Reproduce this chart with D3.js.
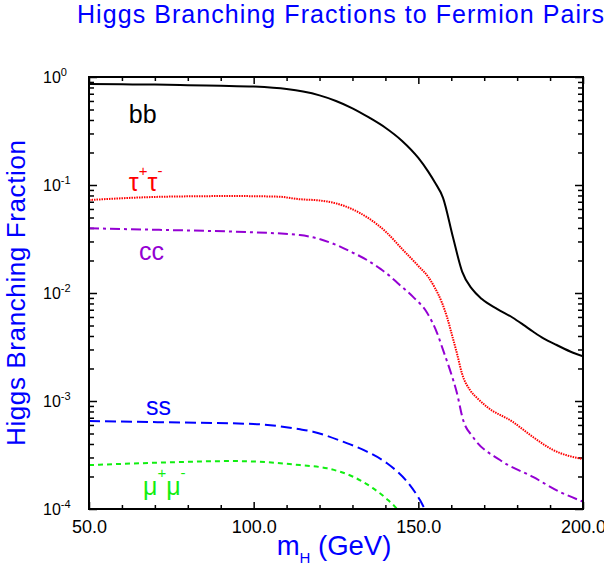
<!DOCTYPE html>
<meta charset="utf-8">
<script src="https://d3js.org/d3.v7.min.js"></script>
<style>
  body { margin: 0; background: #fff; }
  text { font-family: "Liberation Sans", Arial, sans-serif; }
</style>
<div id="chart"></div>
<script>

// ---- data (Higgs mass in GeV, branching fraction) ----
var massBB = [50, 60, 70, 80, 90, 100, 110, 115, 120, 125, 130, 135, 140, 145, 150, 153, 155, 157.5, 160.5, 163.3, 166.3, 169.3, 174, 178.7, 181.8, 184.8, 188, 192, 197, 200];
var brBB   = [0.86, 0.855, 0.85, 0.84, 0.83, 0.815, 0.773, 0.733, 0.676, 0.60, 0.513, 0.422, 0.339, 0.257, 0.178, 0.133, 0.106, 0.076, 0.033, 0.0158, 0.0109, 0.0088, 0.0071, 0.0059, 0.0051, 0.0044, 0.0038, 0.0033, 0.0028, 0.0026];

var massTau = [50, 73.7, 93.7, 107.4, 114, 120, 125, 130, 135, 140, 145, 150, 153, 155, 157.2, 158.7, 160.2, 161.7, 163.3, 165.7, 167.8, 170.9, 178.7, 184.8, 190.9, 200];
var brTau   = [0.0726, 0.078, 0.079, 0.078, 0.0738, 0.0719, 0.0676, 0.0596, 0.049, 0.0372, 0.0257, 0.0178, 0.0141, 0.0112, 0.0081, 0.0060, 0.0041, 0.00278, 0.00178, 0.00126, 0.00107, 0.00088, 0.00064, 0.000464, 0.000352, 0.00029];

var massCC = [50, 73.7, 93.7, 114, 120, 125, 130, 134.4, 138.4, 141.4, 143.6, 148.4, 152.7, 155.7, 157.5, 159.6, 161.7, 163.6, 166.6, 174.8, 184.8, 193, 200];
var brCC   = [0.0397, 0.0383, 0.037, 0.0344, 0.0316, 0.0279, 0.0237, 0.0202, 0.0168, 0.0143, 0.01245, 0.0092, 0.00653, 0.00426, 0.00297, 0.00194, 0.00119, 0.000667, 0.000464, 0.000284, 0.000198, 0.000144, 0.000117];

var massSS = [50, 73.7, 100, 114.1, 118, 127.1, 134.4, 140.5, 146.6, 150.5, 152, 153];
var brSS   = [0.000653, 0.000635, 0.000612, 0.000547, 0.00052, 0.00042, 0.00034, 0.000265, 0.000179, 0.000121, 0.0001, 0.000092];

var massMu = [50, 73.7, 93.7, 114.1, 122.3, 130.2, 136.2, 140.8, 143.5, 144.5];
var brMu   = [0.000255, 0.00027, 0.000278, 0.000255, 0.000238, 0.000199, 0.000156, 0.000121, 0.0001, 0.00009];

// axis ticks
var xMajor = [50, 100, 150, 200];
var xMinor = [60, 70, 80, 90, 110, 120, 130, 140, 160, 170, 180, 190];
var yDecades = [1e-4, 1e-3, 1e-2, 1e-1, 1];
var yExponents = ["-4", "-3", "-2", "-1", "0"];

var svg = d3.select("#chart").append("svg")
    .attr("width", 604)
    .attr("height", 568);

var x = d3.scaleLinear().domain([50, 200]).range([89, 583]);
var y = d3.scaleLog().domain([1e-4, 1]).range([509, 77]);

// minor log ticks 2..9 in every decade
var yMinor = [];
yDecades.slice(0, 4).forEach(function(d) {
  for (var k = 2; k <= 9; k++) yMinor.push(d * k);
});

// ---- axes: all ticks point inward ----
function tickAxis(axis, transform, len) {
  var g = svg.append("g").attr("transform", transform).call(axis.tickSize(-len).tickFormat(""));
  g.select(".domain").remove();
  g.selectAll("line").attr("stroke", "#000").attr("stroke-width", 1.5);
  return g;
}

// bottom with labels
var gx = svg.append("g")
    .attr("transform", "translate(0,509)")
    .call(d3.axisBottom(x).tickValues(xMajor).tickSize(-7).tickPadding(11).tickFormat(d3.format(".1f")));
gx.select(".domain").remove();
gx.selectAll("line").attr("stroke", "#000").attr("stroke-width", 1.5);
gx.selectAll("text").attr("font-size", 18).attr("fill", "#000")
    .style("font-family", "'Liberation Sans', Arial, sans-serif");

tickAxis(d3.axisBottom(x).tickValues(xMinor), "translate(0,509)", 4);
tickAxis(d3.axisTop(x).tickValues(xMajor), "translate(0,77)", 7);
tickAxis(d3.axisTop(x).tickValues(xMinor), "translate(0,77)", 4);

tickAxis(d3.axisLeft(y).tickValues(yDecades), "translate(89,0)", 8);
tickAxis(d3.axisLeft(y).tickValues(yMinor), "translate(89,0)", 5);
tickAxis(d3.axisRight(y).tickValues(yDecades), "translate(583,0)", 8);
tickAxis(d3.axisRight(y).tickValues(yMinor), "translate(583,0)", 5);

// y tick labels 10^n
var ylab = svg.append("g").selectAll("text")
  .data(yDecades)
  .enter().append("text")
    .attr("x", 43)
    .attr("y", function(d) { return y(d) + 6; })
    .attr("font-size", 16)
    .attr("fill", "#000");
ylab.append("tspan").text("10");
ylab.append("tspan")
    .attr("dy", -7)
    .attr("font-size", 11)
    .text(function(d, i) { return yExponents[i]; });

// ---- curves ----
svg.append("clipPath").attr("id", "plotclip")
  .append("rect").attr("x", 89).attr("y", 77).attr("width", 494).attr("height", 432);

var line = d3.line()
    .x(function(d) { return x(d[0]); })
    .y(function(d) { return y(d[1]); })
    .curve(d3.curveMonotoneX);

var series = [
  {mass: massMu,  br: brMu,  color: "#11ee11", dash: "5,4",       width: 2},
  {mass: massSS,  br: brSS,  color: "#0000ff", dash: "11,5",      width: 2},
  {mass: massCC,  br: brCC,  color: "#9400d3", dash: "10,4,3,4",  width: 2},
  {mass: massTau, br: brTau, color: "#ff0000", dash: "1.5,1",     width: 2},
  {mass: massBB,  br: brBB,  color: "#000000", dash: null,        width: 2}
];

svg.append("g").attr("clip-path", "url(#plotclip)")
  .selectAll("path")
  .data(series)
  .enter().append("path")
    .attr("fill", "none")
    .attr("stroke", function(d) { return d.color; })
    .attr("stroke-width", function(d) { return d.width; })
    .attr("stroke-dasharray", function(d) { return d.dash; })
    .attr("d", function(d) { return line(d.mass.map(function(m, i) { return [m, d.br[i]]; })); });

// frame
svg.append("rect")
    .attr("x", 89).attr("y", 77).attr("width", 494).attr("height", 432)
    .attr("fill", "none").attr("stroke", "#000").attr("stroke-width", 2);

// ---- curve labels ----
svg.append("text").attr("x", x(62.1)).attr("y", y(0.375))
    .attr("font-size", 25).attr("fill", "#000").text("bb");

var tau = svg.append("text").attr("x", x(62.1)).attr("y", y(0.088))
    .attr("font-size", 25).attr("fill", "#ff0000");
tau.append("tspan").text("τ");
tau.append("tspan").attr("dy", -15).attr("font-size", 15).text("+");
tau.append("tspan").attr("dy", 15).text("τ");
tau.append("tspan").attr("dy", -15).attr("font-size", 15).text("-");

svg.append("text").attr("x", x(65.2)).attr("y", y(0.0202))
    .attr("font-size", 25).attr("fill", "#9400d3").text("cc");

svg.append("text").attr("x", x(67.3)).attr("y", y(0.00074))
    .attr("font-size", 25).attr("fill", "#0000ff").text("ss");

var mu = svg.append("text").attr("x", x(66.4)).attr("y", y(0.000135))
    .attr("font-size", 25).attr("fill", "#11ee11");
mu.append("tspan").text("μ");
mu.append("tspan").attr("dy", -17).attr("font-size", 15).text("+");
mu.append("tspan").attr("dy", 17).text("μ");
mu.append("tspan").attr("dy", -17).attr("font-size", 15).text("-");

// ---- titles ----
svg.append("text")
    .attr("x", 77).attr("y", 23)
    .attr("font-size", 25).attr("fill", "#0000ff")
    .attr("textLength", 527).attr("lengthAdjust", "spacing")
    .text("Higgs Branching Fractions to Fermion Pairs");

svg.append("text")
    .attr("transform", "translate(25,293) rotate(-90)")
    .attr("text-anchor", "middle")
    .attr("font-size", 26).attr("fill", "#0000ff")
    .attr("textLength", 306).attr("lengthAdjust", "spacing")
    .text("Higgs Branching Fraction");

var xt = svg.append("text")
    .attr("x", 334).attr("y", 555)
    .attr("text-anchor", "middle")
    .attr("font-size", 27.5).attr("fill", "#0000ff");
xt.append("tspan").text("m");
xt.append("tspan").attr("dy", 8).attr("font-size", 15).text("H");
xt.append("tspan").attr("dy", -8).text(" (GeV)");

</script>
